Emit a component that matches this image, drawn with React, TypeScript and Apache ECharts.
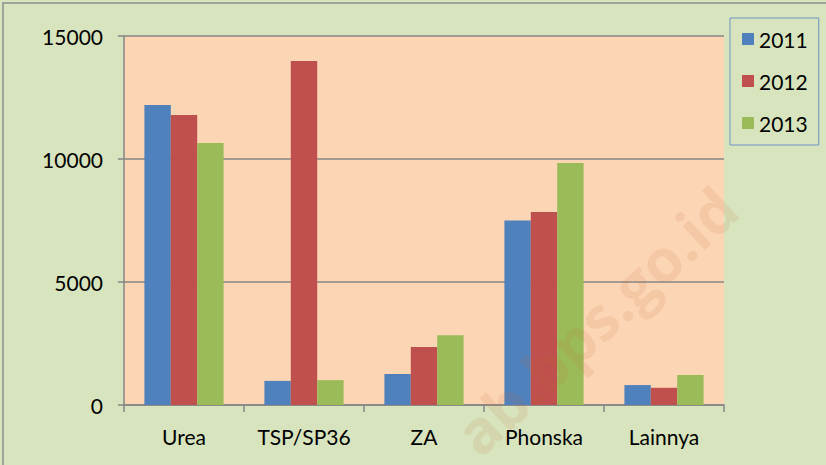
import React, { useEffect, useRef } from "react";
import * as echarts from "echarts";

const categories = ["Urea", "TSP/SP36", "ZA", "Phonska", "Lainnya"];
const seriesNames = ["2011", "2012", "2013"];
const values2011 = [12200, 980, 1260, 7500, 810];
const values2012 = [11790, 13980, 2360, 7850, 700];
const values2013 = [10650, 1010, 2840, 9840, 1220];
const yTicks = { min: 0, max: 15000, interval: 5000 };
const colors = ["#4F81BD", "#C0504D", "#9BBB59"];

const FONT = "Lato, 'Open Sans', sans-serif";

export default function App() {
  const ref = useRef<HTMLDivElement>(null);
  useEffect(() => {
    if (!ref.current) return;
    const chart = echarts.init(ref.current, undefined, { renderer: "svg" });
    const data = [values2011, values2012, values2013];
    chart.setOption({
      animation: false,
      backgroundColor: "#D7E4BD",
      textStyle: { fontFamily: FONT },
      grid: {
        left: 124,
        right: 102,
        top: 36,
        bottom: 60,
        show: true,
        backgroundColor: "#FCD5B5",
        borderWidth: 0,
      },
      legend: {
        orient: "vertical",
        left: 730,
        top: 18,
        padding: [10, 11, 11, 12],
        itemGap: 20,
        itemWidth: 12,
        itemHeight: 12,
        icon: "rect",
        borderColor: "#6F93C6",
        borderWidth: 1,
        textStyle: { fontSize: 21, color: "#000", fontFamily: FONT, lineHeight: 22 },
        data: seriesNames,
      },
      xAxis: {
        type: "category",
        data: categories,
        axisLine: { lineStyle: { color: "#868686", width: 1.5 } },
        axisTick: { show: true, length: 7, lineStyle: { color: "#868686", width: 1.5 } },
        axisLabel: { fontSize: 21, color: "#000", margin: 21, fontFamily: FONT, interval: 0 },
      },
      yAxis: {
        type: "value",
        min: yTicks.min,
        max: yTicks.max,
        interval: yTicks.interval,
        axisLine: { show: true, lineStyle: { color: "#868686", width: 1.5 } },
        axisTick: { show: true, length: 6, lineStyle: { color: "#868686", width: 1.5 } },
        axisLabel: {
          fontSize: 21,
          color: "#000",
          margin: 21,
          fontFamily: FONT,
          formatter: (v: number) => String(v),
        },
        splitLine: { show: true, lineStyle: { color: "#868686", width: 1.5 } },
      },
      series: seriesNames.map((name, i) => ({
        name,
        type: "bar",
        data: data[i],
        barGap: "0%",
        barCategoryGap: "34%",
        itemStyle: { color: colors[i] },
      })),
      graphic: [
        {
          type: "rect",
          shape: { x: 3, y: 3, width: 840, height: 480 },
          style: { fill: "none", stroke: "#8C8C8C", lineWidth: 1.5 },
          z: 100,
          silent: true,
        },
        {
          type: "text",
          x: 727,
          y: 198,
          rotation: (43 * Math.PI) / 180,
          z: 100,
          silent: true,
          style: {
            text: "ab.bps.go.id",
            fontSize: 60,
            fontWeight: "bold",
            fontFamily: "'Open Sans', sans-serif",
            fill: "rgba(200, 110, 50, 0.12)",
            align: "right",
            verticalAlign: "middle",
          },
        },
      ],
    });
    return () => chart.dispose();
  }, []);
  return (
    <div
      ref={ref}
      style={{ position: "absolute", left: 0, top: 0, width: 826, height: 465 }}
    />
  );
}
